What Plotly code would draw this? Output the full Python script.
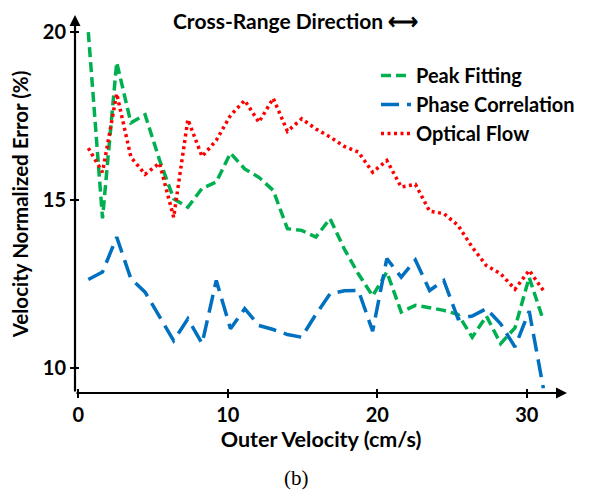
import plotly.graph_objects as go

velocity = [0.67, 1.62, 2.57, 3.52, 4.47, 5.43, 6.38, 7.33, 8.28, 9.23, 10.18,
            11.13, 12.08, 13.04, 13.99, 14.94, 15.89, 16.84, 17.79, 18.74, 19.69,
            20.64, 21.6, 22.55, 23.5, 24.45, 25.4, 26.35, 27.3, 28.25, 29.21,
            30.16, 31.11]

peak_fitting = [20.0, 14.46, 19.1, 17.3, 17.54, 16.2, 15.04, 14.79, 15.35, 15.54,
                16.4, 15.93, 15.68, 15.29, 14.15, 14.1, 13.9, 14.45, 13.55, 12.8,
                12.15, 12.86, 11.67, 11.87, 11.8, 11.72, 11.6, 10.92, 11.55, 10.73,
                11.2, 12.7, 11.42]

phase_correlation = [12.64, 12.86, 13.9, 12.66, 12.26, 11.55, 10.82, 11.47, 10.73,
                     12.61, 11.17, 11.77, 11.27, 11.15, 11.0, 10.92, 11.6, 12.21,
                     12.3, 12.31, 11.1, 13.26, 12.71, 13.22, 12.31, 12.61, 11.47,
                     11.55, 11.77, 11.32, 10.63, 11.7, 9.4]

optical_flow = [16.55, 15.83, 18.17, 16.28, 15.77, 16.1, 14.49, 17.4, 16.3, 16.78,
                17.52, 17.97, 17.32, 18.03, 17.05, 17.42, 17.12, 16.88, 16.6, 16.43,
                15.83, 16.18, 15.39, 15.47, 14.67, 14.6, 14.25, 13.6, 13.05, 12.81,
                12.35, 12.91, 12.31]

series_names = ["Peak Fitting", "Phase Correlation", "Optical Flow"]
x_ticks = [0, 10, 20, 30]
y_ticks = [10, 15, 20]

FONT = "Lato"
X_RANGE = [-0.22, 32.69]
Y_RANGE = [9.26, 20.51]
PAGE_OFF = 8                      # default body margin of the page
W, H = 592 - PAGE_OFF, 492 - PAGE_OFF
ML, MT = 75 - PAGE_OFF, 15 - PAGE_OFF
PW, PH = 567 - 75, 393 - 15
MR, MB = W - ML - PW, H - MT - PH


def px_x(px):
    return (px - PAGE_OFF - ML) / PW


def px_y(py):
    return 1 - (py - PAGE_OFF - MT) / PH


fig = go.Figure()
fig.add_trace(go.Scatter(x=velocity, y=peak_fitting, mode="lines", name=f"<b>{series_names[0]}</b>",
                         line=dict(color="#00B050", width=3.5, dash="10px,5px")))
fig.add_trace(go.Scatter(x=velocity, y=phase_correlation, mode="lines", name=f"<b>{series_names[1]}</b>",
                         line=dict(color="#0070C0", width=3.5, dash="18px,8px")))
fig.add_trace(go.Scatter(x=velocity, y=optical_flow, mode="lines", name=f"<b>{series_names[2]}</b>",
                         line=dict(color="#FF0000", width=3.5, dash="3px,3.5px")))

# axis lines with arrow heads
fig.add_annotation(x=X_RANGE[1], y=Y_RANGE[0], ax=X_RANGE[0], ay=Y_RANGE[0],
                   xref="x", yref="y", axref="x", ayref="y", showarrow=True,
                   arrowhead=2, arrowsize=1, arrowwidth=2.2, arrowcolor="black", text="")
fig.add_annotation(x=X_RANGE[0], y=Y_RANGE[1], ax=X_RANGE[0], ay=Y_RANGE[0],
                   xref="x", yref="y", axref="x", ayref="y", showarrow=True,
                   arrowhead=2, arrowsize=1, arrowwidth=2.2, arrowcolor="black", text="")

fig.add_annotation(x=px_x(295), y=px_y(20), xref="paper", yref="paper",
                   xanchor="center", yanchor="middle",
                   text="<b>Cross-Range Direction ⟷</b>", showarrow=False,
                   font=dict(family=FONT, size=21, color="black"))
fig.add_annotation(x=px_x(296), y=px_y(478), xref="paper", yref="paper",
                   xanchor="center", yanchor="middle", text="(b)", showarrow=False,
                   font=dict(family="Liberation Serif", size=21, color="black"))

tick_common = dict(showgrid=False, zeroline=False, showline=False,
                   tickwidth=2, tickcolor="black", ticklen=4)

fig.update_layout(
    width=W, height=H,
    margin=dict(l=ML, r=MR, t=MT, b=MB, pad=0, autoexpand=False),
    paper_bgcolor="white", plot_bgcolor="white",
    font=dict(family=FONT, size=20, color="black"),
    showlegend=True,
    legend=dict(x=px_x(376), y=px_y(56), xanchor="left", yanchor="top",
                font=dict(family=FONT, size=20, color="black"),
                bgcolor="rgba(0,0,0,0)", itemwidth=30, tracegroupgap=0),
    xaxis=dict(range=X_RANGE, tickvals=x_ticks, ticktext=[f"<b>{v}</b>" for v in x_ticks],
               ticks="outside", tickfont=dict(family=FONT, size=20),
               title=dict(text="<b>Outer Velocity (cm/s)</b>", standoff=0,
                          font=dict(family=FONT, size=21.5)), **tick_common),
    yaxis=dict(range=Y_RANGE, tickvals=y_ticks, ticktext=[f"<b>{v}</b>" for v in y_ticks],
               ticks="outside", tickfont=dict(family=FONT, size=20),
               title=dict(text="<b>Velocity Normalized Error (%)</b>", standoff=8,
                          font=dict(family=FONT, size=20.5)), **tick_common),
    xaxis2=dict(range=X_RANGE, overlaying="x", side="bottom", anchor="y",
                tickvals=x_ticks, showticklabels=False, ticks="inside", **tick_common),
    yaxis2=dict(range=Y_RANGE, overlaying="y", side="left", anchor="x",
                tickvals=y_ticks, showticklabels=False, ticks="inside", **tick_common),
)

# invisible helper trace so the overlay axes (inner tick halves) are drawn
fig.add_trace(go.Scatter(x=[velocity[0]], y=[peak_fitting[0]], xaxis="x2", yaxis="y2",
                         mode="markers", marker=dict(opacity=0), showlegend=False,
                         hoverinfo="skip"))

fig.write_html("out.html")
